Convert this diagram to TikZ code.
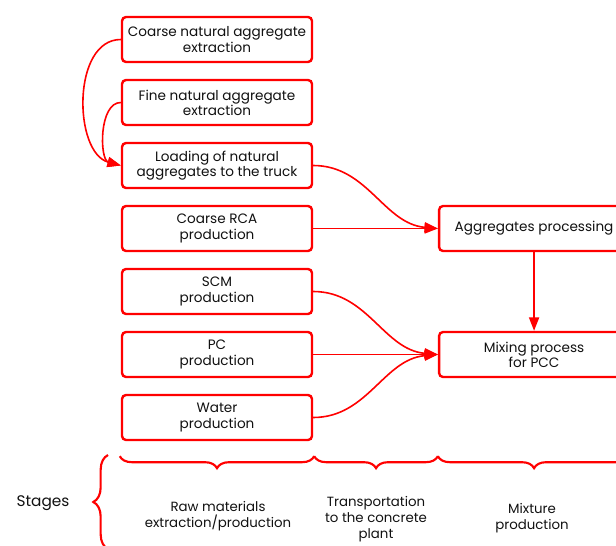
\documentclass[tikz,border=0pt]{standalone}
\usepackage{fontspec}
\setmainfont{Poppins}
\usetikzlibrary{arrows.meta,calc,positioning,decorations.pathreplacing}
\definecolor{Signal}{HTML}{FF0000}
\definecolor{Ink}{HTML}{111111}
\tikzset{
  process/.style={
    rounded corners=3pt, draw=Signal, line width=1.8pt, fill=white,
    minimum width=142.5pt, minimum height=33.75pt, align=center,
    inner sep=1pt, text=Ink, font=\fontsize{10.2}{11.4}\selectfont
  },
  flow/.style={-{Triangle[length=10pt,width=7.5pt]}, line width=1.2pt, draw=Signal},
  stagebrace/.style={decorate, decoration={brace,mirror,amplitude=9pt},
    line width=1.6pt, draw=Signal},
  stagelabel/.style={align=center, text=Ink, font=\fontsize{10}{11.8}\selectfont}
}

\begin{document}
\begin{tikzpicture}[x=0.75pt,y=-0.75pt,node distance=11.7pt and 93.5pt]
    \useasboundingbox (0,0) rectangle (616,545);
    \node[process] (coarsenat) at (217,39.5) {Coarse natural aggregate\\extraction};
    \node[process,below=of coarsenat] (finenat) {Fine natural aggregate\\extraction};
    \node[process,below=of finenat] (loading) {Loading of natural\\aggregates to the truck};
    \node[process,below=of loading] (rca) {Coarse RCA\\production};
    \node[process,below=of rca] (scm) {SCM\\production};
    \node[process,below=of scm] (pc) {PC\\production};
    \node[process,below=of pc] (water) {Water\\production};
    \node[process,right=of rca] (aggproc) {Aggregates processing};
    \node[process,right=of pc] (mixing) {Mixing process\\for PCC};
    \draw[flow] (coarsenat.west) to[out=180,in=165,looseness=1.0] (loading.west);
    \draw[flow] (finenat.west) to[out=180,in=165,looseness=0.9] (loading.west);
    \draw[flow] (loading.east) to[out=0,in=175] (aggproc.west);
    \draw[flow] (rca)--(aggproc);
    \draw[flow] (aggproc)--(mixing);
    \draw[flow] (scm.east) to[out=0,in=175] (mixing.west);
    \draw[flow] (pc)--(mixing);
    \draw[flow] (water.east) to[out=0,in=185] (mixing.west);
    \coordinate (b0) at ($(water.south west)+(-1,15)$);
    \coordinate (b1) at ($(water.south east)+(1,15)$);
    \coordinate (b2) at (b1 -| mixing.west);
    \coordinate (b3) at (b1 -| mixing.east);
    \draw[stagebrace] (b0)--(b1);
    \draw[stagebrace] (b1)--(b2);
    \draw[stagebrace] (b2)--(b3);
    \draw[stagebrace,decoration={mirror=false,amplitude=11pt}] (108,549)--(108,455);
    \node[stagelabel,font=\fontsize{11.5}{13}\selectfont] (stages) at (43,503) {Stages};
    \node[stagelabel] (rawlab) at (218,516) {Raw materials\\extraction/production};
    \node[stagelabel] (translab) at (376,519) {Transportation\\to the concrete\\plant};
    \node[stagelabel] (mixlab) at (532,518) {Mixture\\production};
  \end{tikzpicture}
\end{document}
